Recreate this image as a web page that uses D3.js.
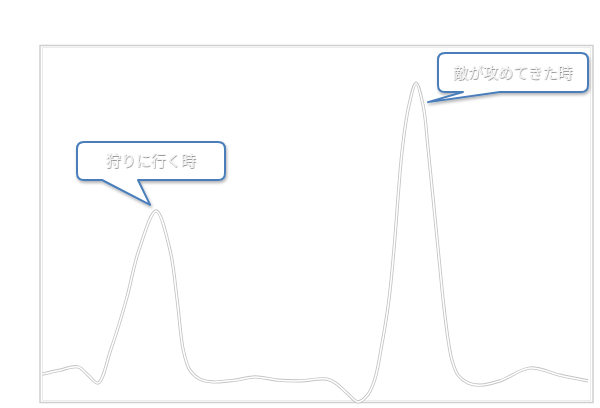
<!DOCTYPE html>
<html>
<head>
<meta charset="utf-8">
<script src="https://cdn.jsdelivr.net/npm/d3@7"></script>
<style>
  body { margin: 0; background: #fff; }
  svg { display: block; }
</style>
</head>
<body>
<div id="chart"></div>
<script>
// curve points (x: 0-100, y: 0-100)
var xValues = [0.4, 3.6, 6.9, 8.7, 10.5, 12.8, 15.6, 17.9, 21.0, 23.5, 24.8, 25.9, 27.1, 28.9,
  31.3, 35.3, 38.9, 43.0, 47.0, 51.9, 53.7, 55.5, 57.5, 59.2, 60.5, 61.8, 63.1, 64.0, 65.5,
  66.7, 68.0, 69.3, 70.2, 72.0, 72.9, 73.8, 74.5, 75.6, 77.4, 79.6, 83.2, 88.6, 94.0, 99.1];
var yValues = [8.1, 9.2, 10.1, 7.8, 5.6, 14.9, 28.9, 42.9, 53.8, 42.9, 28.9, 14.9, 9.2, 6.7,
  5.9, 6.4, 7.3, 6.4, 6.2, 6.7, 5.3, 2.8, 0.3, 2.2, 6.4, 16.2, 28.9, 42.9, 70.9,
  83.2, 89.6, 83.2, 70.9, 42.9, 28.9, 17.7, 12.0, 7.8, 5.6, 5.0, 6.2, 9.8, 7.8, 6.2];

var callouts = ["狩りに行く時", "敵が攻めてきた時"];
var calloutPeaks = [8, 30]; // index of the point each bubble points at

var svgWidth = 600;
var svgHeight = 408;

var svg = d3.select("#chart")
  .append("svg")
  .attr("width", svgWidth)
  .attr("height", svgHeight);

var defs = svg.append("defs");
defs.append("filter").attr("id", "shadow")
  .attr("x", "-10%").attr("y", "-10%").attr("width", "130%").attr("height", "140%")
  .append("feDropShadow")
  .attr("dx", 1).attr("dy", 2).attr("stdDeviation", 1.5)
  .attr("flood-color", "#000").attr("flood-opacity", 0.3);
defs.append("filter").attr("id", "glow")
  .attr("x", "-10%").attr("y", "-30%").attr("width", "120%").attr("height", "160%")
  .append("feDropShadow")
  .attr("dx", 0.5).attr("dy", 0.8).attr("stdDeviation", 0.7)
  .attr("flood-color", "#666").attr("flood-opacity", 0.8);

// plot frame
var frame = { left: 40, top: 46, right: 593, bottom: 403 };

svg.append("rect")
  .attr("x", frame.left).attr("y", frame.top - 0.5)
  .attr("width", frame.right - frame.left).attr("height", frame.bottom - frame.top)
  .attr("fill", "#fff")
  .attr("stroke", "#cfcfcf")
  .attr("stroke-width", 1.5);
svg.append("rect")
  .attr("x", frame.left + 2.5).attr("y", frame.top + 1.5)
  .attr("width", frame.right - frame.left - 5).attr("height", frame.bottom - frame.top - 4)
  .attr("fill", "none")
  .attr("stroke", "#ececec")
  .attr("stroke-width", 1);

var x = d3.scaleLinear().domain([0, 100]).range([frame.left, frame.right]);
var y = d3.scaleLinear().domain([0, 100]).range([frame.bottom, frame.top]);

var points = xValues.map(function(d, i) { return [d, yValues[i]]; });

var line = d3.line()
  .x(function(d) { return x(d[0]); })
  .y(function(d) { return y(d[1]); })
  .curve(d3.curveCatmullRom.alpha(0.5));

svg.append("path")
  .datum(points)
  .attr("d", line)
  .attr("fill", "none")
  .attr("stroke", "#c4c4c4")
  .attr("stroke-width", 3.2);
svg.append("path")
  .datum(points)
  .attr("d", line)
  .attr("fill", "none")
  .attr("stroke", "#fff")
  .attr("stroke-width", 1.5);

// speech bubbles
var boxes = [
  { x0: 77, y0: 142, x1: 225, y1: 180, t0: 102, t1: 138, dx: -6, dy: -6 },
  { x0: 438, y0: 53, x1: 588, y1: 92, t0: 500, t1: 463, dx: 12, dy: 19 }
];

function bubble(b, tip) {
  var r = 7;
  var p = d3.path();
  p.moveTo(b.x0 + r, b.y0);
  p.lineTo(b.x1 - r, b.y0);
  p.quadraticCurveTo(b.x1, b.y0, b.x1, b.y0 + r);
  p.lineTo(b.x1, b.y1 - r);
  p.quadraticCurveTo(b.x1, b.y1, b.x1 - r, b.y1);
  p.lineTo(Math.max(b.t0, b.t1), b.y1);
  p.lineTo(tip[0], tip[1]);
  p.lineTo(Math.min(b.t0, b.t1), b.y1);
  p.lineTo(b.x0 + r, b.y1);
  p.quadraticCurveTo(b.x0, b.y1, b.x0, b.y1 - r);
  p.lineTo(b.x0, b.y0 + r);
  p.quadraticCurveTo(b.x0, b.y0, b.x0 + r, b.y0);
  p.closePath();
  return p.toString();
}

callouts.forEach(function(label, i) {
  var b = boxes[i];
  var pk = points[calloutPeaks[i]];
  var tip = [x(pk[0]) + b.dx, y(pk[1]) + b.dy];

  svg.append("path")
    .attr("d", bubble(b, tip))
    .attr("fill", "#fff")
    .attr("stroke", "#4a7ebb")
    .attr("stroke-width", 2)
    .attr("stroke-linejoin", "round")
    .attr("filter", "url(#shadow)");

  svg.append("text")
    .attr("x", (b.x0 + b.x1) / 2)
    .attr("y", (b.y0 + b.y1) / 2 + 1)
    .attr("text-anchor", "middle")
    .attr("dominant-baseline", "middle")
    .attr("font-family", "'Noto Sans CJK JP', sans-serif")
    .attr("font-size", 15)
    .attr("fill", "#f6f6f6")
    .attr("filter", "url(#glow)")
    .text(label);
});
</script>
</body>
</html>
